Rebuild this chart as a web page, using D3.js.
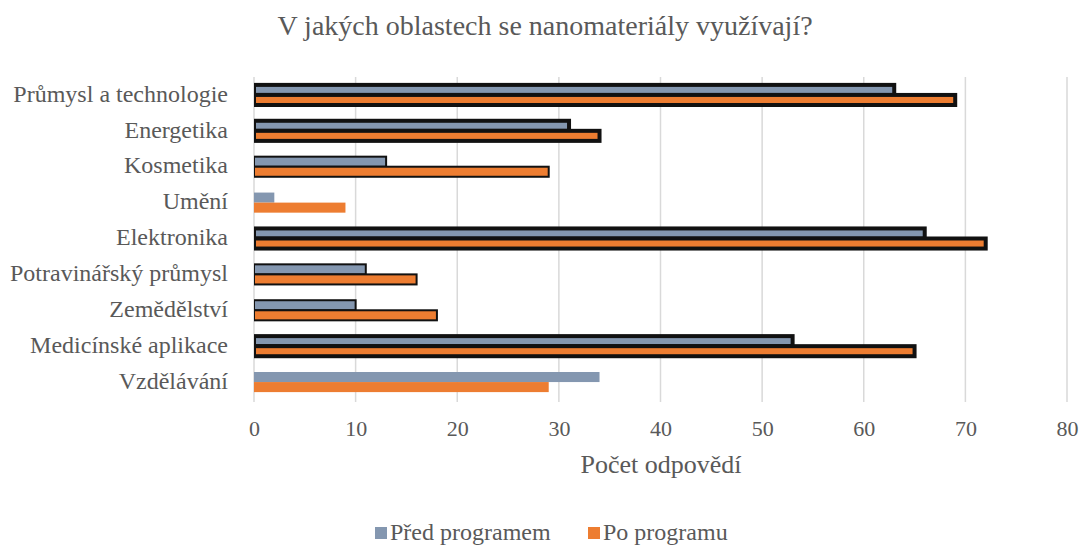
<!DOCTYPE html>
<html>
<head>
<meta charset="utf-8">
<script src="https://cdn.jsdelivr.net/npm/d3@7"></script>
<style>
  body { margin: 0; background: #fff; }
</style>
</head>
<body>
<svg id="chart" width="1081" height="545"></svg>
<script>
  // chart data
  var categories = ["Průmysl a technologie", "Energetika", "Kosmetika", "Umění", "Elektronika",
    "Potravinářský průmysl", "Zemědělství", "Medicínské aplikace", "Vzdělávání"];
  var seriesNames = ["Před programem", "Po programu"];
  var before = [63, 31, 13, 2, 66, 11, 10, 53, 34];
  var after = [69, 34, 29, 9, 72, 16, 18, 65, 29];
  var xTicks = [0, 10, 20, 30, 40, 50, 60, 70, 80];

  // outline weight per category (as in the original)
  var outline = [4, 4, 2, 0, 4, 2, 2, 4, 0];
  var colors = ["#8497b0", "#ed7d31"];
  var font = "'Liberation Serif', 'Times New Roman'";
  var textColor = "#595959";

  var svg = d3.select("#chart");
  var margin = {top: 77, right: 14, bottom: 145, left: 254},
    width = 1081 - margin.left - margin.right,
    height = 545 - margin.top - margin.bottom,
    g = svg.append("g").attr("transform", "translate(" + margin.left + "," + margin.top + ")");

  var x = d3.scaleLinear()
    .domain([0, 80])
    .range([0, width]);

  var y = d3.scaleBand()
    .domain(categories)
    .range([0, height])
    .paddingInner(0.44)
    .paddingOuter(0.22);

  var y1 = d3.scaleBand()
    .domain(seriesNames)
    .range([0, y.bandwidth()]);

  // bars don't spill left of the value axis
  svg.append("defs").append("clipPath")
    .attr("id", "plot-clip")
    .append("rect")
    .attr("x", x(0))
    .attr("y", -10)
    .attr("width", width + 20)
    .attr("height", height + 20);

  // gridlines
  g.append("g")
    .selectAll("line")
    .data(xTicks)
    .enter().append("line")
    .attr("x1", function(d) { return x(d); })
    .attr("x2", function(d) { return x(d); })
    .attr("y1", 0)
    .attr("y2", height + 2)
    .attr("stroke", "#d9d9d9")
    .attr("stroke-width", 1.5);

  // bars
  var rows = categories.map(function(c, i) {
    return {cat: c, w: outline[i], vals: [before[i], after[i]]};
  });

  var group = g.append("g")
    .attr("clip-path", "url(#plot-clip)")
    .selectAll("g")
    .data(rows)
    .enter().append("g")
    .attr("transform", function(d) { return "translate(0," + y(d.cat) + ")"; });

  group.selectAll("rect")
    .data(function(d) {
      return d.vals.map(function(v, j) { return {name: seriesNames[j], value: v, w: d.w, j: j}; });
    })
    .enter().append("rect")
    .attr("x", x(0))
    .attr("y", function(d) { return y1(d.name); })
    .attr("width", function(d) { return x(d.value) - x(0); })
    .attr("height", y1.bandwidth())
    .attr("fill", function(d) { return colors[d.j]; })
    .attr("stroke", function(d) { return d.w ? "#111" : "none"; })
    .attr("stroke-width", function(d) { return d.w; });

  // x axis labels
  g.append("g")
    .attr("class", "axis axis--x")
    .attr("transform", "translate(0," + height + ")")
    .call(d3.axisBottom(x).tickValues(xTicks).tickSize(0).tickPadding(20))
    .call(function(a) { a.select(".domain").remove(); })
    .selectAll("text")
    .style("font-family", font)
    .style("font-size", "22px")
    .style("fill", textColor)
    .attr("dy", "0.71em");

  // y axis labels
  g.append("g")
    .attr("class", "axis axis--y")
    .call(d3.axisLeft(y).tickSize(0).tickPadding(26))
    .call(function(a) { a.select(".domain").remove(); })
    .selectAll("text")
    .style("font-family", font)
    .style("font-size", "24px")
    .style("fill", textColor)
    .attr("dy", "0.28em");

  // title
  svg.append("text")
    .attr("x", 545)
    .attr("y", 35)
    .attr("text-anchor", "middle")
    .style("font-family", font)
    .style("font-size", "28px")
    .style("fill", textColor)
    .text("V jakých oblastech se nanomateriály využívají?");

  // axis title
  svg.append("text")
    .attr("x", 661)
    .attr("y", 473)
    .attr("text-anchor", "middle")
    .style("font-family", font)
    .style("font-size", "26px")
    .style("fill", textColor)
    .text("Počet odpovědí");

  // legend
  var legendX = [375, 588];
  var legend = svg.append("g")
    .selectAll("g")
    .data(seriesNames)
    .enter().append("g")
    .attr("transform", function(d, i) { return "translate(" + legendX[i] + ",527)"; });

  legend.append("rect")
    .attr("width", 12)
    .attr("height", 12)
    .attr("fill", function(d, i) { return colors[i]; });

  legend.append("text")
    .attr("x", 15)
    .attr("y", 13)
    .style("font-family", font)
    .style("font-size", "24px")
    .style("fill", textColor)
    .text(function(d) { return d; });
</script>
</body>
</html>
